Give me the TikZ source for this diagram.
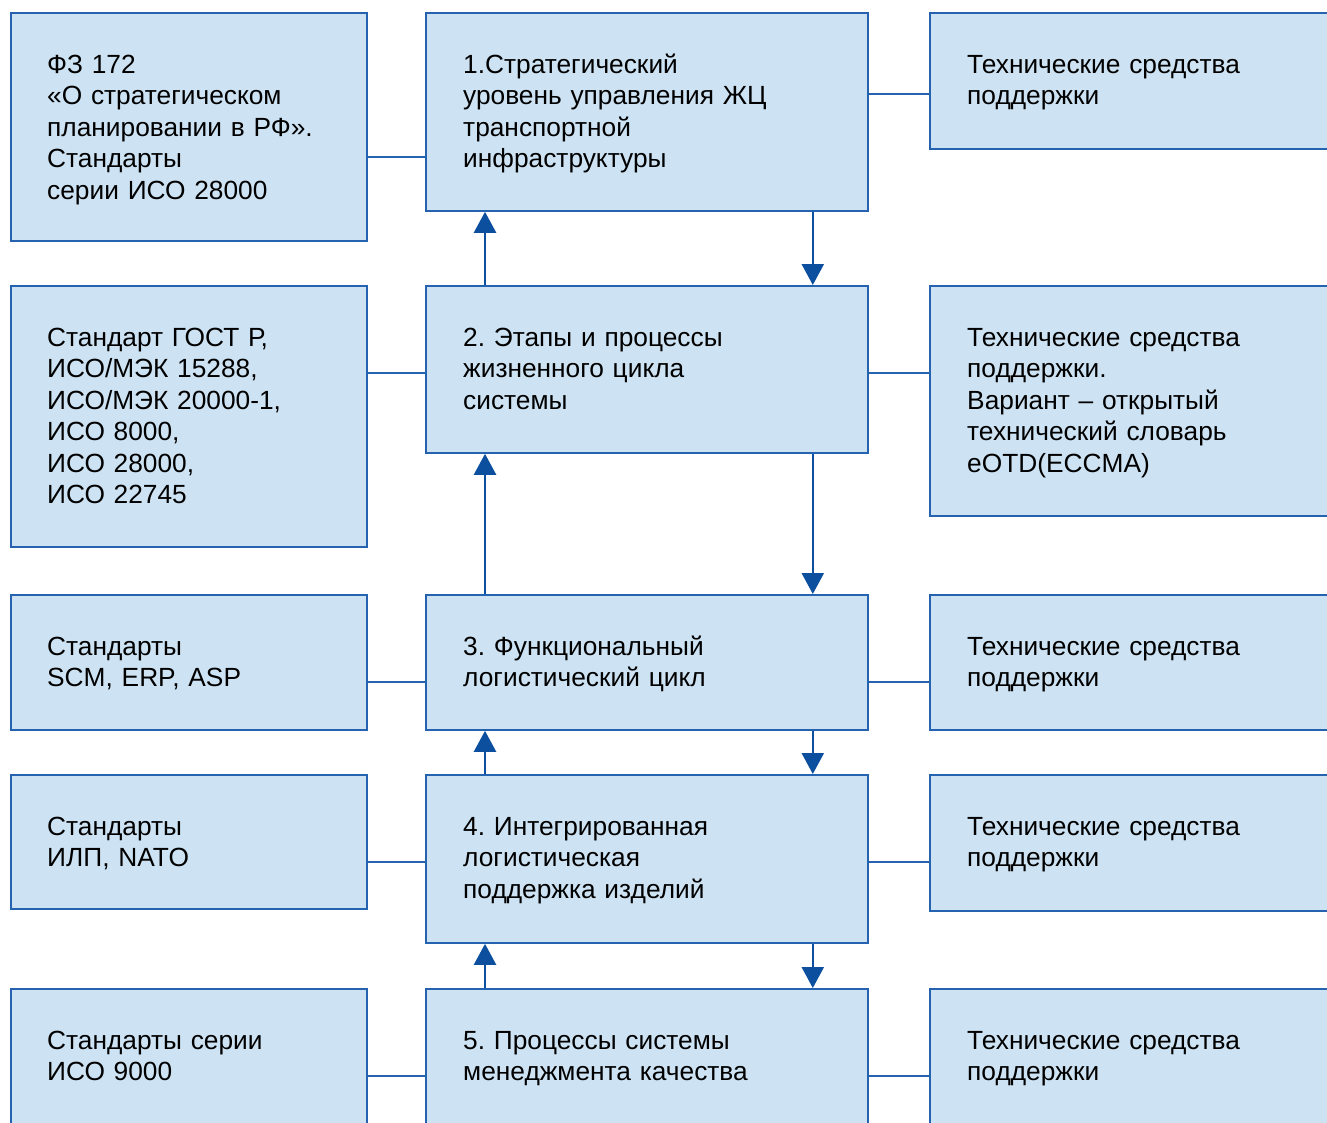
\documentclass[tikz,border=0pt]{standalone}
\usepackage{fontspec}
\setmainfont{Liberation Sans}
\usetikzlibrary{calc,arrows.meta}
\definecolor{boxfill}{HTML}{CDE3F3}
\definecolor{boxline}{HTML}{2563B0}
\definecolor{flowblue}{HTML}{0B4F9E}
\frenchspacing
\begin{document}
\begin{tikzpicture}[x=1pt,y=-1pt,
    box/.style={draw=boxline,fill=boxfill,line width=1.8pt,anchor=north west,inner sep=0pt},
    txt/.style={anchor=base west,align=left,text width=420pt,inner sep=0pt,
      font=\fontsize{26.3}{31.5}\selectfont},
    link/.style={draw=boxline,line width=1.8pt},
    flow/.style={draw=flowblue,line width=2.4pt,-{Triangle[width=22pt,length=21pt]}}]
  \useasboundingbox (0,0) rectangle (1327,1122);
  \clip (0,0) rectangle (1327,1122);
  \node[box,minimum width=356pt,minimum height=228pt] (l1) at (10,12) {};
  \node[box,minimum width=442pt,minimum height=198pt] (m1) at (425,12) {};
  \node[box,minimum width=420pt,minimum height=136pt] (r1) at (929,12) {};
  \node[box,minimum width=356pt,minimum height=261pt] (l2) at (10,285) {};
  \node[box,minimum width=442pt,minimum height=167pt] (m2) at (425,285) {};
  \node[box,minimum width=420pt,minimum height=230pt] (r2) at (929,285) {};
  \node[box,minimum width=356pt,minimum height=135pt] (l3) at (10,594) {};
  \node[box,minimum width=442pt,minimum height=135pt] (m3) at (425,594) {};
  \node[box,minimum width=420pt,minimum height=135pt] (r3) at (929,594) {};
  \node[box,minimum width=356pt,minimum height=134pt] (l4) at (10,774) {};
  \node[box,minimum width=442pt,minimum height=168pt] (m4) at (425,774) {};
  \node[box,minimum width=420pt,minimum height=136pt] (r4) at (929,774) {};
  \node[box,minimum width=356pt,minimum height=160pt] (l5) at (10,988) {};
  \node[box,minimum width=442pt,minimum height=160pt] (m5) at (425,988) {};
  \node[box,minimum width=420pt,minimum height=160pt] (r5) at (929,988) {};

  \node[txt] (l1t) at ($(l1.north west)+(37,61)$) {ФЗ 172\\«О стратегическом\\планировании в РФ».\\Стандарты\\серии ИСО 28000};
  \node[txt] (m1t) at ($(m1.north west)+(38,61)$) {1.Стратегический\\уровень управления ЖЦ\\транспортной\\инфраструктуры};
  \node[txt] (r1t) at ($(r1.north west)+(38,61)$) {Технические средства\\поддержки};
  \node[txt] (l2t) at ($(l2.north west)+(37,61)$) {Стандарт ГОСТ Р,\\ИСО/МЭК 15288,\\ИСО/МЭК 20000-1,\\ИСО 8000,\\ИСО 28000,\\ИСО 22745};
  \node[txt] (m2t) at ($(m2.north west)+(38,61)$) {2. Этапы и процессы\\жизненного цикла\\системы};
  \node[txt] (r2t) at ($(r2.north west)+(38,61)$) {Технические средства\\поддержки.\\Вариант – открытый\\технический словарь\\eOTD(ECCMA)};
  \node[txt] (l3t) at ($(l3.north west)+(37,61)$) {Стандарты\\SCM, ERP, ASP};
  \node[txt] (m3t) at ($(m3.north west)+(38,61)$) {3. Функциональный\\логистический цикл};
  \node[txt] (r3t) at ($(r3.north west)+(38,61)$) {Технические средства\\поддержки};
  \node[txt] (l4t) at ($(l4.north west)+(37,61)$) {Стандарты\\ИЛП, NATO};
  \node[txt] (m4t) at ($(m4.north west)+(38,61)$) {4. Интегрированная\\логистическая\\поддержка изделий};
  \node[txt] (r4t) at ($(r4.north west)+(38,61)$) {Технические средства\\поддержки};
  \node[txt] (l5t) at ($(l5.north west)+(37,61)$) {Стандарты серии\\ИСО 9000};
  \node[txt] (m5t) at ($(m5.north west)+(38,61)$) {5. Процессы системы\\менеджмента качества};
  \node[txt] (r5t) at ($(r5.north west)+(38,61)$) {Технические средства\\поддержки};

  \begin{scope}[link]
    \draw (l1.east |- 0,157) -- (m1.west |- 0,157);
    \draw (m1.east |- 0,94) -- (r1.west |- 0,94);
    \draw (l2.east |- 0,373) -- (m2.west |- 0,373);
    \draw (m2.east |- 0,373) -- (r2.west |- 0,373);
    \draw (l3.east |- 0,682) -- (m3.west |- 0,682);
    \draw (m3.east |- 0,682) -- (r3.west |- 0,682);
    \draw (l4.east |- 0,862) -- (m4.west |- 0,862);
    \draw (m4.east |- 0,862) -- (r4.west |- 0,862);
    \draw (l5.east |- 0,1076) -- (m5.west |- 0,1076);
    \draw (m5.east |- 0,1076) -- (r5.west |- 0,1076);
  \end{scope}

  \begin{scope}[flow]
    \draw ($(m2.north west)+(60,0)$) -- ($(m1.south west)+(60,0)$);
    \draw ($(m3.north west)+(60,0)$) -- ($(m2.south west)+(60,0)$);
    \draw ($(m4.north west)+(60,0)$) -- ($(m3.south west)+(60,0)$);
    \draw ($(m5.north west)+(60,0)$) -- ($(m4.south west)+(60,0)$);
    \draw ($(m1.south east)+(-56,0)$) -- ($(m2.north east)+(-56,0)$);
    \draw ($(m2.south east)+(-56,0)$) -- ($(m3.north east)+(-56,0)$);
    \draw ($(m3.south east)+(-56,0)$) -- ($(m4.north east)+(-56,0)$);
    \draw ($(m4.south east)+(-56,0)$) -- ($(m5.north east)+(-56,0)$);
  \end{scope}
\end{tikzpicture}
\end{document}
